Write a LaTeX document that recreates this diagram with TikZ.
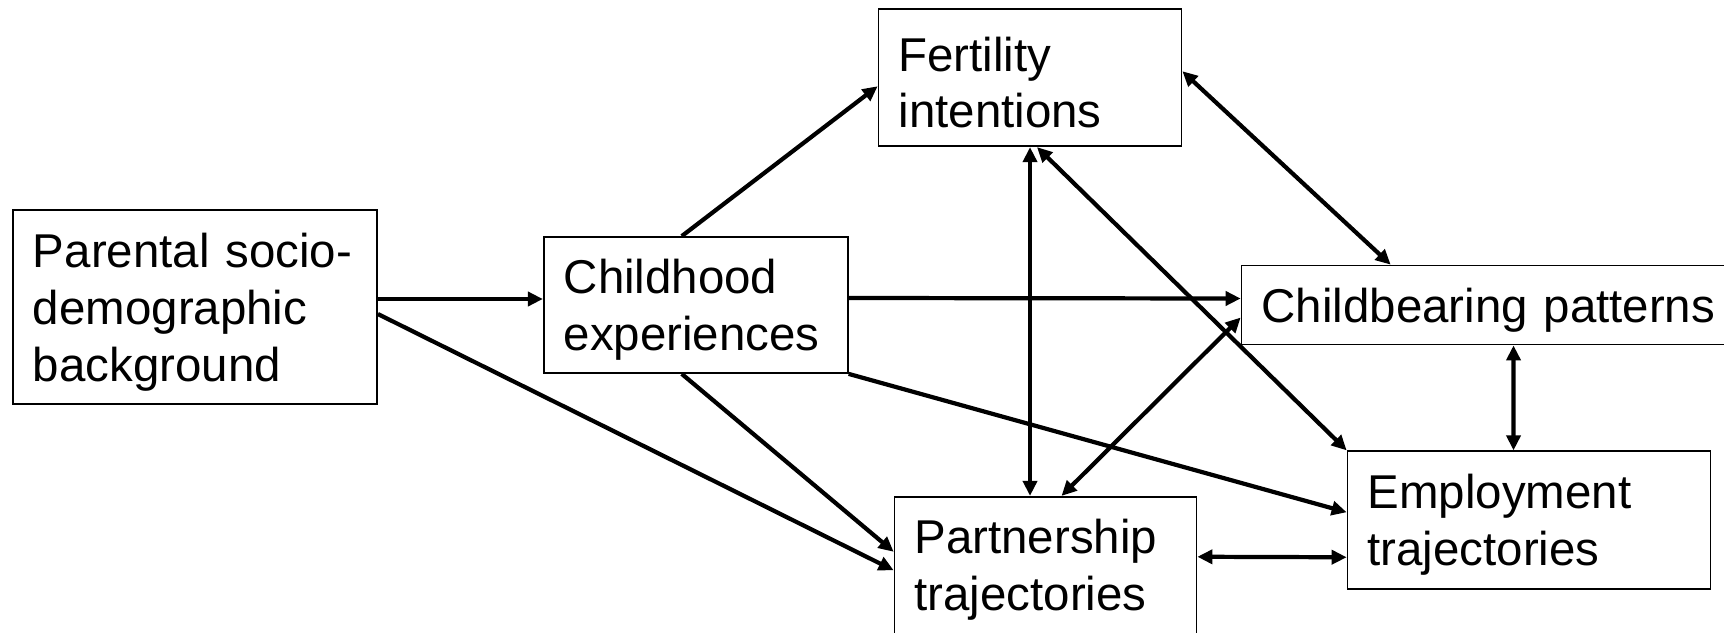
\documentclass[tikz,border=0pt]{standalone}
\usepackage{fontspec}
\setmainfont{Liberation Sans}
\usepackage{tikz}
\usetikzlibrary{positioning, arrows.meta}
\hyphenpenalty=10000
\exhyphenpenalty=10000

\begin{document}
\begin{tikzpicture}[
    box/.style={
      draw, rectangle, line width=0.5pt, inner xsep=2mm, align=left,
      font=\fontsize{13.5pt}{16.2pt}\selectfont,
      execute at begin node=\rule{0pt}{4.4mm}
    },
    link/.style={
      -{Triangle[length=1.5mm,width=1.4mm]},
      line width=1.2pt
    },
    twoway/.style={
      {Triangle[length=1.5mm,width=1.4mm]}-{Triangle[length=1.5mm,width=1.4mm]},
      line width=1.2pt
    }
]
  \useasboundingbox (0,0) rectangle (17.24,-6.32);

  % Cases
  \node[box, text width=3.24cm, minimum height=1.94cm] (parental) at (1.95,-3.07) {Parental~socio-\\demographic\\background};
  \node[box, right=1.65cm of parental, yshift=0.2mm, text width=2.64cm, minimum height=1.36cm] (childhood) {Childhood\\experiences};
  \node[box, above right=0.89cm and 0.29cm of childhood, text width=2.63cm, minimum height=1.37cm] (fertility) {Fertility\\intentions};
  \node[box, below right=1.22cm and 0.45cm of childhood, text width=2.62cm, minimum height=1.37cm] (partnership) {Partnership\\trajectories};
  \node[box, right=3.92cm of childhood, text width=4.45cm, minimum height=0.79cm] (childbearing) {Childbearing~patterns};
  \node[box, below=1.05cm of childbearing, xshift=4.5mm, text width=3.23cm, minimum height=1.38cm] (employment) {Employment\\trajectories};

  % Liens simples
  \draw[link] ([yshift=0.8mm]parental.east) -- ([yshift=0.6mm]childhood.west);
  \draw[link] ([yshift=-0.7mm]parental.east) -- ([yshift=-0.5mm]partnership.west);
  \draw[link] ([xshift=-1.4mm]childhood.north) -- ([yshift=-0.85mm]fertility.west);
  \draw[link] ([yshift=0.7mm]childhood.east) -- ([yshift=0.65mm]childbearing.west);
  \draw[link] (childhood.south east) -- ([yshift=0.8mm]employment.west);
  \draw[link] ([xshift=-1.4mm]childhood.south) -- ([yshift=1.35mm]partnership.west);

  % Liens dans les deux sens
  \draw[twoway] (fertility.south) -- (fertility.south |- partnership.north);
  \draw[twoway] ([yshift=0.65mm]fertility.east) -- ([xshift=1.5cm]childbearing.north west);
  \draw[twoway] ([xshift=0.7mm]fertility.south) -- (employment.north west);
  \draw[twoway] ([xshift=1.6mm]partnership.north) -- ([yshift=-1.25mm]childbearing.west);
  \draw[twoway] ([xshift=2.95mm]childbearing.south) -- ([xshift=-1.55mm]employment.north);
  \draw[twoway] ([yshift=0.85mm]partnership.east) -- ([yshift=-3.7mm]employment.west);
\end{tikzpicture}
\end{document}
